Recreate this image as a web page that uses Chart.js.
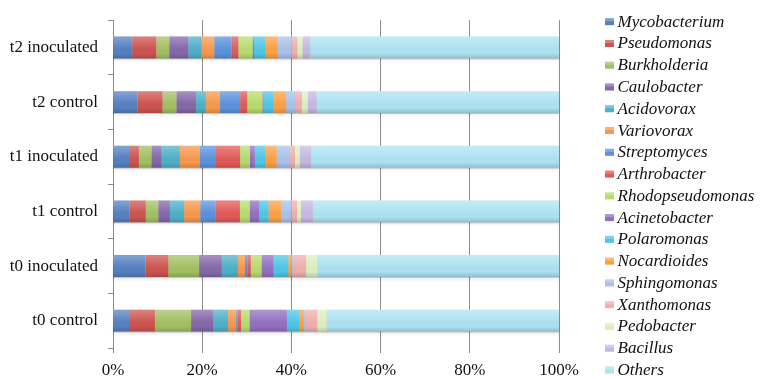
<!DOCTYPE html>
<html>
<head>
<meta charset="utf-8">
<script src="https://cdn.jsdelivr.net/npm/chart.js@4.4.1/dist/chart.umd.min.js"></script>
<style>
html,body{margin:0;padding:0;background:#fff;}
#wrap{width:767px;height:379px;position:relative;}
</style>
</head>
<body>
<div id="wrap"><canvas id="c" width="767" height="379"></canvas></div>
<script>
// ---- data ----
const categories = ['t2 inoculated', 't2 control', 't1 inoculated', 't1 control', 't0 inoculated', 't0 control'];
const xTickLabels = ['0%', '20%', '40%', '60%', '80%', '100%'];
const seriesNames = ['Mycobacterium', 'Pseudomonas', 'Burkholderia', 'Caulobacter', 'Acidovorax', 'Variovorax',
  'Streptomyces', 'Arthrobacter', 'Rhodopseudomonas', 'Acinetobacter', 'Polaromonas', 'Nocardioides',
  'Sphingomonas', 'Xanthomonas', 'Pedobacter', 'Bacillus', 'Others'];
const mycobacterium    = [4.3, 5.5, 3.6, 3.75, 7.3, 3.8];
const pseudomonas      = [5.4, 5.6, 2.2, 3.6, 5.1, 5.6];
const burkholderia     = [2.9, 3.1, 2.8, 2.8, 6.9, 8.1];
const caulobacter      = [4.3, 4.4, 2.3, 2.6, 5.1, 5.0];
const acidovorax       = [3.0, 2.2, 4.1, 3.2, 3.6, 3.3];
const variovorax       = [2.8, 3.2, 4.5, 3.6, 1.6, 1.8];
const streptomyces     = [3.9, 4.5, 3.6, 3.4, 0.5, 0.3];
const arthrobacter     = [1.5, 1.6, 5.4, 5.5, 0.8, 0.8];
const rhodopseudomonas = [3.2, 3.4, 2.2, 2.2, 2.4, 1.9];
const acinetobacter    = [0.3, 0.2, 1.1, 2.1, 2.7, 8.4];
const polaromonas      = [2.5, 2.3, 2.4, 2.1, 3.3, 2.8];
const nocardioides     = [2.8, 2.8, 2.5, 2.8, 0.8, 1.0];
const sphingomonas     = [3.2, 2.2, 3.0, 2.4, 0.3, 0.4];
const xanthomonas      = [1.2, 1.3, 1.1, 1.2, 2.9, 2.6];
const pedobacter       = [1.2, 1.4, 1.1, 0.9, 2.5, 2.1];
const bacillus         = [1.7, 1.9, 2.5, 2.6, 0.0, 0.0];
const others           = [55.8, 54.4, 55.6, 55.25, 54.2, 52.1];

const seriesValues = [mycobacterium, pseudomonas, burkholderia, caulobacter, acidovorax, variovorax,
  streptomyces, arthrobacter, rhodopseudomonas, acinetobacter, polaromonas, nocardioides,
  sphingomonas, xanthomonas, pedobacter, bacillus, others];

// ---- styles ----
const seriesColors = ['#5680c0', '#cc5450', '#a2c062', '#8468a8', '#4eb0c8', '#f6984c',
  '#5b92dc', '#e05a58', '#b6dc6e', '#9270c0', '#4ec6e6', '#fca044',
  '#a8c2ea', '#f0aeae', '#dcefc0', '#c6b8e2', '#ade2f2'];

const serif = '"Liberation Serif", "Times New Roman", serif';
const gridGray = '#8c8c8c';

const barShading = {
  id: 'barShading',
  beforeDatasetsDraw(chart) {
    const ctx = chart.ctx;
    const meta = chart.getDatasetMeta(0);
    const xs = chart.scales.x;
    const x0 = xs.getPixelForValue(0), x1 = xs.getPixelForValue(100);
    ctx.save();
    meta.data.forEach(bar => {
      const top = bar.y - bar.height / 2;
      ctx.fillStyle = 'rgba(0,0,0,0.18)';
      ctx.shadowColor = 'rgba(0,0,0,0.35)';
      ctx.shadowBlur = 3;
      ctx.shadowOffsetY = 2;
      ctx.fillRect(x0, top + 1, x1 - x0, bar.height);
    });
    ctx.restore();
  },
  afterDatasetsDraw(chart) {
    const ctx = chart.ctx;
    const meta = chart.getDatasetMeta(0);
    const xs = chart.scales.x;
    const x0 = xs.getPixelForValue(0), x1 = xs.getPixelForValue(100);
    ctx.save();
    meta.data.forEach(bar => {
      const top = bar.y - bar.height / 2;
      const g = ctx.createLinearGradient(0, top, 0, top + bar.height);
      g.addColorStop(0, 'rgba(255,255,255,0.28)');
      g.addColorStop(0.45, 'rgba(255,255,255,0.06)');
      g.addColorStop(0.75, 'rgba(0,0,0,0.0)');
      g.addColorStop(1, 'rgba(0,0,0,0.16)');
      ctx.fillStyle = g;
      ctx.fillRect(x0, top, x1 - x0, bar.height);
    });
    ctx.restore();
  }
};

const sideLegend = {
  id: 'sideLegend',
  afterDraw(chart) {
    const ctx = chart.ctx;
    ctx.save();
    ctx.font = 'italic 17px ' + serif;
    ctx.textBaseline = 'middle';
    ctx.textAlign = 'left';
    chart.data.datasets.forEach((ds, i) => {
      const cy = 21.7 + i * 21.77;
      ctx.fillStyle = ds.backgroundColor;
      ctx.fillRect(605, cy - 3.5, 9, 7);
      ctx.fillStyle = 'rgba(255,255,255,0.25)';
      ctx.fillRect(605, cy - 3.5, 9, 3);
      ctx.fillStyle = '#111';
      ctx.fillText(ds.label, 617.5, cy + 0.5);
    });
    ctx.restore();
  }
};

new Chart(document.getElementById('c'), {
  type: 'bar',
  data: {
    labels: categories,
    datasets: seriesNames.map((name, i) => ({
      label: name,
      data: seriesValues[i],
      backgroundColor: seriesColors[i],
      borderWidth: 0,
      categoryPercentage: 0.4,
      barPercentage: 1.0
    }))
  },
  options: {
    indexAxis: 'y',
    responsive: false,
    animation: false,
    devicePixelRatio: 1,
    layout: { padding: { top: 19.5, right: 208, bottom: 0, left: 0 } },
    plugins: { legend: { display: false }, tooltip: { enabled: false }, title: { display: false } },
    scales: {
      x: {
        stacked: true,
        min: 0, max: 100,
        z: 1,
        ticks: {
          stepSize: 20,
          padding: 7,
          color: '#111',
          font: { family: serif, size: 17 },
          callback: (v, idx) => xTickLabels[idx]
        },
        grid: { color: gridGray, lineWidth: 1, tickLength: 5, drawTicks: true },
        border: { display: false },
        afterFit: s => { s.height = 31; }
      },
      y: {
        stacked: true,
        ticks: { padding: 10, color: '#111', font: { family: serif, size: 17 } },
        grid: { display: true, drawOnChartArea: false, drawTicks: true, tickLength: 5, color: gridGray, offset: true },
        border: { display: true, color: gridGray, width: 1 },
        afterFit: s => { s.width = 113; }
      }
    }
  },
  plugins: [barShading, sideLegend]
});
</script>
</body>
</html>
